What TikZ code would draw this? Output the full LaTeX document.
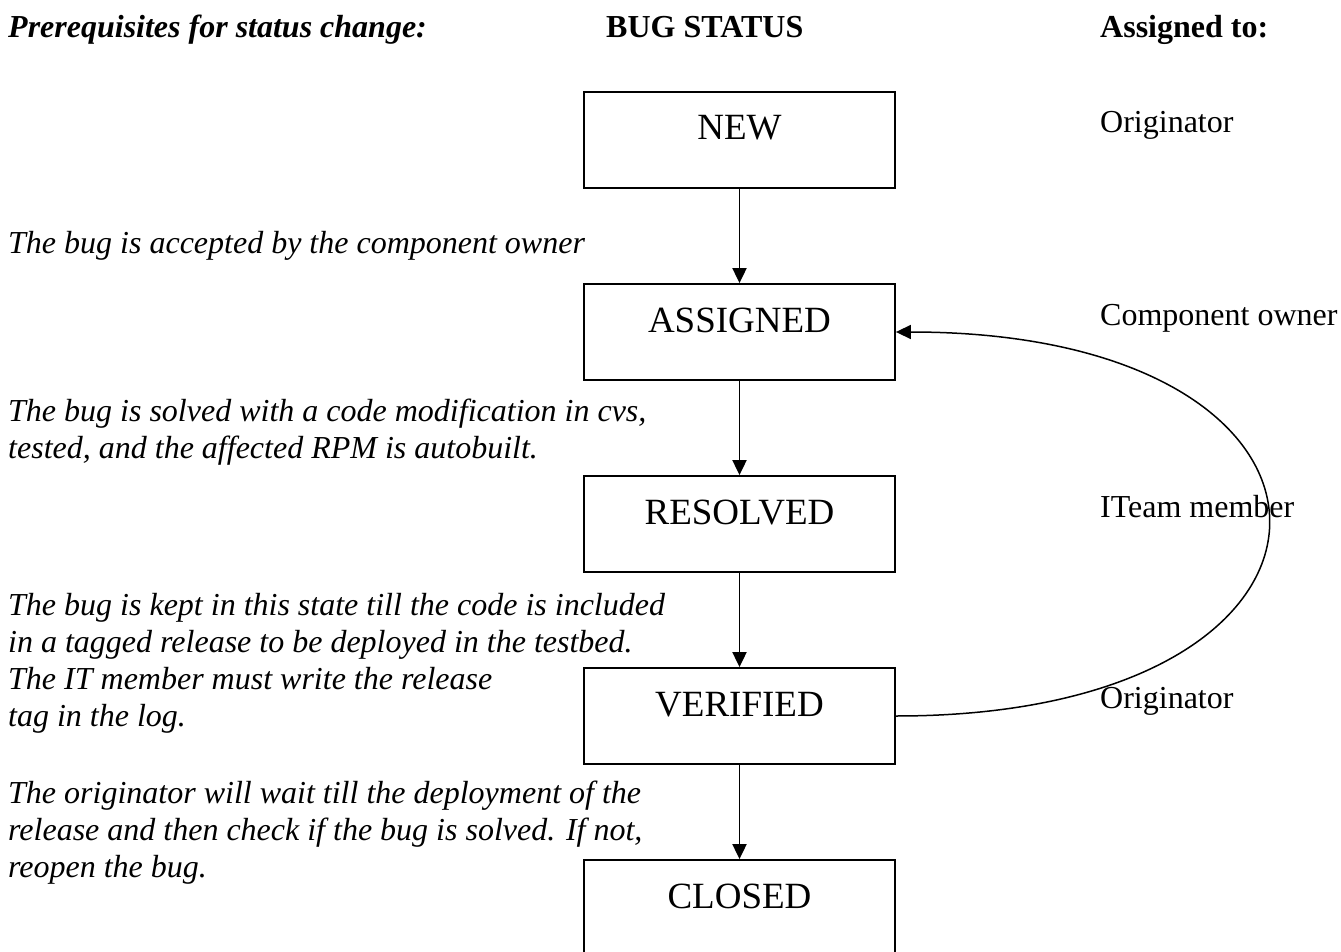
\documentclass[tikz,border=0pt]{standalone}
\usepackage{fontspec}
\setmainfont{Liberation Serif}
\usetikzlibrary{arrows.meta,positioning}

\begin{document}
\begin{tikzpicture}
[x=1pt, y=-1pt,
every node/.style={inner sep=0pt},
state/.style={draw, line width=1.8pt, minimum width=311pt, text height=48pt, text depth=48pt, font=\fontsize{37}{44}\selectfont},
note/.style={anchor=base west, align=left, font=\fontsize{32}{37}\selectfont\itshape},
owner/.style={anchor=base west, font=\fontsize{32}{37}\selectfont},
head/.style={anchor=base west, font=\fontsize{32}{37}\selectfont\bfseries},
flow/.style={-{Triangle[length=15pt,width=14pt]}, line width=1.9pt}]
\useasboundingbox (0,0) rectangle (1341,952);
%%
\node[head] (prereq) at (8,38) {\itshape Prerequisites for status change:};
\node[head] (title) at (606,38) {BUG STATUS};
\node[head] (assignee) at (1100,38) {Assigned to:};
%%
\node[state] (new) at (739.5,140) {NEW};
\node[state] (assigned) at (739.5,332) {ASSIGNED};
\node[state] (resolved) at (739.5,524) {RESOLVED};
\node[state] (verified) at (739.5,716) {VERIFIED};
\node[state] (closed) at (739.5,908) {CLOSED};
%%
\node[owner] (own1) at (1100,133) {Originator};
\node[owner] (own2) at (1100,325) {Component owner};
\node[owner] (own3) at (1100,517) {ITeam member};
\node[owner] (own4) at (1100,708) {Originator};
%% base of the last line
\node[note] (accept) at (8,253) {The bug is accepted by the component owner};
\node[note] (solve) at (8,458) {The bug is solved with a code modification in cvs,\\
tested, and the affected RPM is autobuilt.};
\node[note] (keep) at (8,726) {The bug is kept in this state till the code is included\\
in a tagged release to be deployed in the testbed.\\
The IT member must write the release\\
tag in the log.};
\node[note] (wait) at (8,877) {The originator will wait till the deployment of the\\
release and then check if the bug is solved. If not,\\
reopen the bug.};
%%
\draw[flow] (new) -- (assigned);
\draw[flow] (assigned) -- (resolved);
\draw[flow] (resolved) -- (verified);
\draw[flow] (verified) -- (closed);
\draw[flow, line width=1.5pt] (verified.east) .. controls +(496,0) and +(496,0) .. (assigned.east);
\end{tikzpicture}
\end{document}
